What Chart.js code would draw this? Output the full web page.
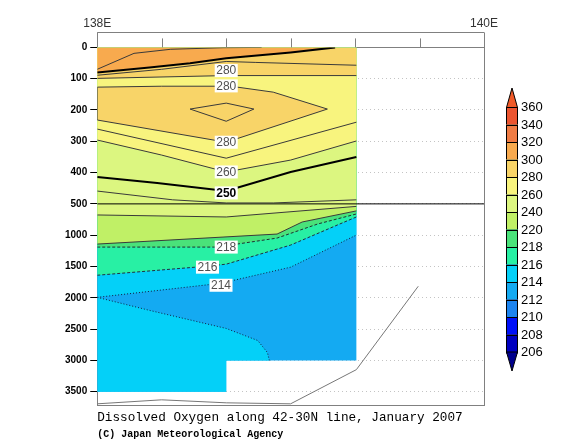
<!DOCTYPE html>
<html><head><meta charset="utf-8">
<script src="https://cdn.jsdelivr.net/npm/chart.js@4.4.1/dist/chart.umd.min.js"></script>
<style>html,body{margin:0;padding:0;background:#fff}</style>
</head><body>
<canvas id="c" width="570" height="441"></canvas>
<script>
// ---------------- data ----------------
const lonTicks = [138, 138.333, 138.667, 139, 139.333, 139.667, 140];
const lonTickLabels = ['138E', '', '', '', '', '', '140E'];
const depthTicks = [0, 100, 200, 300, 400, 500, 1000, 1500, 2000, 2500, 3000, 3500];

// colour-bar levels (umol/kg) and the band colours (<206 ... >360)
const levels = [206, 208, 210, 212, 214, 216, 218, 220, 240, 260, 280, 300, 320, 340, 360];
const bandColors = ['#00008C', '#0000C0', '#0010F8', '#1C84F0', '#14AAF2', '#04D0F8', '#28F0A4', '#4AE27A',
                    '#C0F066', '#DCF680', '#F8F47E', '#F8D468', '#F8AA4E', '#F07C44', '#EC5530', '#F05A28'];

// observed section: [longitude, depth m]
const domain = [[138, 0], [139.34, 0], [139.34, 3000], [138.667, 3000], [138.667, 3500], [138, 3500]];
const seaBottom = [[138, 3694], [138.333, 3630], [138.667, 3678], [139, 3694], [139.34, 3148], [139.66, 1816]];

// contour lines [longitude, depth m]
const c310 = [[138, 70], [138.19, 19], [138.38, 6], [138.65, 1], [138.85, 0]];
const c300 = [[138, 80], [138.27, 64], [138.48, 51], [138.667, 35], [139, 16], [139.23, 0]];
const c290 = [[138, 89], [138.333, 70], [138.667, 45], [138.82, 48], [139.34, 57]];
const c280 = [[138, 99], [138.667, 90], [139.34, 90]];
const c280lens = [[138, 127], [138.333, 124], [138.69, 124], [138.91, 143], [139.19, 197], [138.667, 303], [138, 232], [138, 127]];
const c290lens = [[138.48, 197], [138.667, 178], [138.81, 197], [138.667, 236], [138.48, 197]];
const c270 = [[138, 261], [138.667, 354], [139.34, 239]];
const c260 = [[138, 296], [138.333, 344], [138.667, 398], [139, 360], [139.34, 299]];
const c250 = [[138, 414], [138.31, 433], [138.667, 459], [139, 398], [139.34, 350]];
const c245 = [[138, 459], [138.39, 487], [138.667, 497], [138.91, 497], [139.34, 487]];
const c240 = [[138, 677], [138.667, 709], [139.34, 540]];
const c220 = [[138, 1142], [138.93, 982], [139.06, 789], [139.34, 612]];
const c218 = [[138, 1190], [138.62, 1190], [138.93, 1046], [139.14, 821], [139.34, 661]];
const c216 = [[138, 1640], [138.57, 1495], [138.667, 1463], [139, 1158], [139.23, 853], [139.34, 709]];
const c214 = [[138, 1993], [138.64, 1768], [139, 1511], [139.34, 998]];
const c214deep = [[138, 1993], [138.27, 2201], [138.667, 2490], [138.83, 2683], [138.88, 2875], [138.89, 3000]];

const contourLabels = [
  {lon: 138.667, depth: 74, text: '280'},
  {lon: 138.667, depth: 123, text: '280'},
  {lon: 138.667, depth: 303, text: '280'},
  {lon: 138.667, depth: 398, text: '260'},
  {lon: 138.667, depth: 465, text: '250', bold: true},
  {lon: 138.667, depth: 1190, text: '218'},
  {lon: 138.57, depth: 1511, text: '216'},
  {lon: 138.64, depth: 1800, text: '214'}
];

// ---------------- helpers ----------------
// depth axis: 0-500 m stretched 5x relative to 500-3725 m
function py(d) { return d <= 500 ? d : 500 + (d - 500) / 5; }
const toXY = pts => pts.map(p => ({x: p[0], y: py(p[1])}));
function above(line) {
  const pts = line.slice();
  const last = pts[pts.length - 1];
  if (last[1] > 0) pts.push([last[0], 0]);
  pts.push([pts[0][0], 0]);
  return pts;
}
let ord = 1000;
function fillDS(pts, band) {
  return {data: toXY(pts), fill: 'shape', backgroundColor: bandColors[band], borderColor: 'rgba(0,0,0,0)',
          borderWidth: 0, pointRadius: 0, tension: 0, order: ord--};
}
function lineDS(pts, extra) {
  return Object.assign({data: toXY(pts), fill: false, borderColor: '#3a3a3a', borderWidth: 1,
          pointRadius: 0, tension: 0, order: 0}, extra || {});
}
const deepLens = c214deep.concat([[138.667, 3000], [138.667, 3500], [138, 3500]]);

const datasets = [
  fillDS(domain, 4),
  fillDS(deepLens, 5),
  fillDS(above(c214), 5),
  fillDS(above(c216), 6),
  fillDS(above(c218), 7),
  fillDS(above(c220), 8),
  fillDS(above(c240), 9),
  fillDS(above(c260), 10),
  fillDS(c280lens, 11),
  fillDS(above(c280), 11),
  fillDS(above(c300), 12),
  lineDS(c310), lineDS(c300, {borderColor: '#000', borderWidth: 2}), lineDS(c290), lineDS(c280),
  lineDS(c280lens), lineDS(c290lens), lineDS(c270), lineDS(c260),
  lineDS(c250, {borderColor: '#000', borderWidth: 2}), lineDS(c245), lineDS(c240), lineDS(c220),
  lineDS(c218, {borderDash: [3, 2], borderColor: '#203030'}),
  lineDS(c216, {borderDash: [3, 2], borderColor: '#203040'}),
  lineDS(c214, {borderDash: [1, 2], borderColor: '#102040'}),
  lineDS(c214deep, {borderDash: [1, 2], borderColor: '#102040'}),
  lineDS([[138, 500], [140, 500]], {borderColor: '#000', borderWidth: 1}),
  lineDS(seaBottom, {borderColor: '#777', borderWidth: 1})
];

// ---------------- plugins ----------------
const topBracket = {
  id: 'topBracket',
  afterDraw(chart) {
    const {ctx, chartArea, scales: {x}} = chart;
    ctx.save();
    ctx.strokeStyle = '#808080'; ctx.lineWidth = 1;
    const yb = Math.round(chartArea.top - 15) + 0.5;
    ctx.beginPath();
    ctx.moveTo(x.getPixelForValue(lonTicks[0]), yb);
    ctx.lineTo(x.getPixelForValue(lonTicks[lonTicks.length - 1]), yb);
    lonTicks.forEach((v, i) => {
      if (lonTickLabels[i]) return;
      const px = Math.round(x.getPixelForValue(v)) + 0.5;
      ctx.moveTo(px, chartArea.top - 9); ctx.lineTo(px, chartArea.top);
    });
    ctx.stroke();
    ctx.restore();
  }
};
const labelPlugin = {
  id: 'contourLabels',
  afterDatasetsDraw(chart) {
    const {ctx, scales: {x, y}} = chart;
    ctx.save();
    ctx.textAlign = 'center'; ctx.textBaseline = 'middle';
    contourLabels.forEach(l => {
      ctx.font = (l.bold ? 'bold ' : '') + '12px "Liberation Sans", Arial, sans-serif';
      const px = x.getPixelForValue(l.lon), pyy = y.getPixelForValue(py(l.depth));
      const w = ctx.measureText(l.text).width + 3;
      ctx.fillStyle = '#fff';
      ctx.fillRect(px - w / 2, pyy - 6.5, w, 13);
      ctx.fillStyle = l.bold ? '#000' : '#505050';
      ctx.fillText(l.text, px, pyy + 0.5);
    });
    ctx.restore();
  }
};
const colorBar = {
  id: 'colorBar',
  afterDraw(chart) {
    const ctx = chart.ctx;
    const x0 = 506, w = 12, top = 107, step = 17.5, n = levels.length - 1;
    ctx.save();
    ctx.strokeStyle = '#000'; ctx.lineWidth = 1;
    for (let k = 0; k < n; k++) {
      const band = n - k;
      ctx.fillStyle = bandColors[band];
      ctx.fillRect(x0, top + k * step, w, step);
      ctx.strokeRect(x0 + 0.5, Math.round(top + k * step) + 0.5, w - 1, step);
    }
    ctx.fillStyle = bandColors[bandColors.length - 1];
    ctx.beginPath(); ctx.moveTo(x0 + 0.5, top + 0.5); ctx.lineTo(x0 + w / 2, top - 19); ctx.lineTo(x0 + w - 0.5, top + 0.5); ctx.closePath();
    ctx.fill(); ctx.stroke();
    const bot = top + n * step;
    ctx.fillStyle = bandColors[0];
    ctx.beginPath(); ctx.moveTo(x0 + 0.5, bot); ctx.lineTo(x0 + w / 2, bot + 19); ctx.lineTo(x0 + w - 0.5, bot); ctx.closePath();
    ctx.fill(); ctx.stroke();
    ctx.fillStyle = '#000';
    ctx.font = '13px "Liberation Sans", Arial, sans-serif';
    ctx.textAlign = 'left'; ctx.textBaseline = 'middle';
    for (let k = 0; k <= n; k++) ctx.fillText(String(levels[n - k]), x0 + w + 3, top + k * step + 0.5);
    ctx.restore();
  }
};

// ---------------- chart ----------------
new Chart(document.getElementById('c'), {
  type: 'line',
  data: {datasets},
  plugins: [topBracket, labelPlugin, colorBar],
  options: {
    responsive: false, animation: false, devicePixelRatio: 1, events: [],
    layout: {padding: {left: 62, top: 14, right: 86, bottom: 1}},
    plugins: {
      legend: {display: false}, tooltip: {enabled: false},
      title: {display: true, text: 'Dissolved Oxygen along 42-30N line, January 2007', position: 'bottom',
              align: 'start', fullSize: false, weight: 1000, color: '#000',
              font: {family: '"Liberation Mono", monospace', size: 12.7, weight: 'normal', lineHeight: 1.2},
              padding: {top: 4, bottom: 0}},
      subtitle: {display: true, text: '(C) Japan Meteorological Agency', position: 'bottom',
                 align: 'start', fullSize: false, color: '#000',
                 font: {family: '"Liberation Mono", monospace', size: 10, weight: 'bold', lineHeight: 1.2},
                 padding: {top: 3, bottom: 0}}
    },
    scales: {
      x: {type: 'linear', position: 'top', min: 138, max: 140,
          afterBuildTicks: s => { s.ticks = lonTicks.map(v => ({value: v})); },
          ticks: {autoSkip: false, maxRotation: 0, padding: 2, color: '#333',
                  font: {family: '"Liberation Sans", Arial, sans-serif', size: 12},
                  callback: (v, i) => lonTickLabels[i]},
          grid: {drawOnChartArea: false, tickLength: 15,
                 tickColor: c => lonTickLabels[c.index] ? '#808080' : 'rgba(0,0,0,0)'},
          border: {color: '#808080'}},
      y: {type: 'linear', reverse: true, min: 0, max: py(3725),
          afterBuildTicks: s => { s.ticks = depthTicks.map(d => ({value: py(d)})); },
          ticks: {autoSkip: false, padding: 3, color: '#000',
                  font: {family: '"Liberation Sans", Arial, sans-serif', size: 10, weight: 'bold'},
                  callback: (v, i) => String(depthTicks[i])},
          grid: {color: '#c4c4c4', tickColor: '#000', tickLength: 7},
          border: {color: '#808080', dash: [1, 3]}},
      xb: {type: 'linear', position: 'bottom', min: 138, max: 140,
           ticks: {display: false}, grid: {display: false, drawTicks: false}, border: {color: '#808080'}},
      yr: {type: 'linear', position: 'right', min: 0, max: 1,
           ticks: {display: false}, grid: {display: false, drawTicks: false}, border: {color: '#808080'}}
    }
  }
});
</script>
</body></html>
